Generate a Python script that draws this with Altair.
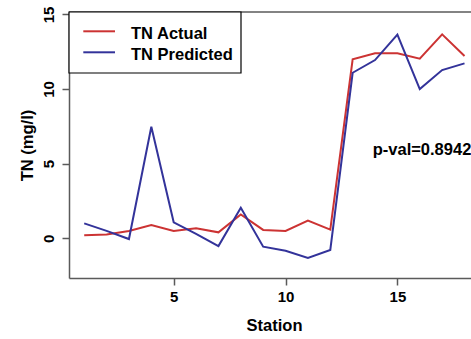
import altair as alt
import pandas as pd

# Total nitrogen per monitoring station: observed vs. model prediction
stations = list(range(1, 19))
tn_actual = [0.2, 0.25, 0.49, 0.89, 0.49, 0.67, 0.4, 1.6, 0.56, 0.49,
             1.18, 0.58, 11.99, 12.39, 12.39, 12.03, 13.66, 12.21]
tn_predicted = [1.0, 0.5, -0.05, 7.47, 1.07, 0.3, -0.52, 2.05, -0.56, -0.83,
                -1.32, -0.78, 11.09, 11.94, 13.64, 10.0, 11.27, 11.72]
series_names = ["TN Actual", "TN Predicted"]
series_colors = ["#cc3333", "#33339a"]
x_ticks = [5, 10, 15]
y_ticks = [0, 5, 10, 15]
p_value = 0.8942

FONT = "Liberation Sans"
AXIS_GREY = "#5a5a5a"
W, H = 402, 266

df = pd.concat([
    pd.DataFrame({"Station": stations, "TN": tn_actual, "Series": series_names[0]}),
    pd.DataFrame({"Station": stations, "TN": tn_predicted, "Series": series_names[1]}),
])

lines = alt.Chart(df).mark_line(strokeWidth=2, clip=True).encode(
    x=alt.X("Station:Q",
            scale=alt.Scale(domain=[0.32, 18.29], nice=False, zero=False),
            axis=alt.Axis(values=x_ticks, title="Station", labelFlush=False,
                          labelPadding=4, titleX=205, titleY=52.7,
                          titleAlign="center", titleBaseline="alphabetic")),
    y=alt.Y("TN:Q",
            scale=alt.Scale(domain=[-2.66, 15.16], nice=False, zero=False),
            axis=alt.Axis(values=y_ticks, title="TN (mg/l)", labelAngle=270,
                          labelAlign="center", labelBaseline="alphabetic",
                          labelPadding=8.5, titleAngle=270, titleX=-37,
                          titleY=133, titleAlign="center",
                          titleBaseline="alphabetic")),
    color=alt.Color("Series:N",
                    scale=alt.Scale(domain=series_names, range=series_colors),
                    legend=None),
    order=alt.Order("Station:Q"),
)

one = pd.DataFrame({"k": [0]})

# upper edge of the plot box
top_edge = alt.Chart(one).mark_rule(color=AXIS_GREY, strokeWidth=1.5).encode(
    x=alt.value(0), x2=alt.value(W), y=alt.value(0)
)

# legend box in the top-left corner
legend_box = alt.Chart(one).mark_rect(
    fill="white", stroke="black", strokeWidth=1.2
).encode(x=alt.value(0), x2=alt.value(172), y=alt.value(0), y2=alt.value(61))

legend_layers = []
for i, (name, col) in enumerate(zip(series_names, series_colors)):
    line_y = 19.3 + i * 21
    text_y = 27.3 + i * 20.7
    legend_layers.append(
        alt.Chart(one).mark_rule(color=col, strokeWidth=2).encode(
            x=alt.value(14.3), x2=alt.value(46), y=alt.value(line_y))
    )
    legend_layers.append(
        alt.Chart(one).mark_text(
            align="left", baseline="alphabetic", font=FONT, fontSize=16.5,
            fontWeight="bold", color="black"
        ).encode(x=alt.value(62), y=alt.value(text_y), text=alt.value(name))
    )

p_label = alt.Chart(one).mark_text(
    align="left", baseline="alphabetic", font=FONT, fontSize=16.5,
    fontWeight="bold", color="black"
).encode(x=alt.value(303.7), y=alt.value(143),
         text=alt.value(f"p-val={p_value:.4f}"))

chart = alt.layer(lines, top_edge, legend_box, *legend_layers, p_label).properties(
    width=W, height=H,
    background="white",
    autosize=alt.AutoSizeParams(type="none"),
    padding={"left": 69, "top": 12, "right": 0, "bottom": 61},
).configure_view(stroke="transparent").configure_axis(
    grid=False,
    labelFont=FONT, labelFontSize=15, labelFontWeight="bold", labelColor="black",
    labelOverlap=False, labelBound=False,
    titleFont=FONT, titleFontSize=16.5, titleFontWeight="bold", titleColor="black",
    domainColor=AXIS_GREY, domainWidth=1.5,
    tickColor=AXIS_GREY, tickWidth=1.5, tickSize=7,
)

chart.save("out.html", embed_options={"renderer": "svg", "actions": False})
